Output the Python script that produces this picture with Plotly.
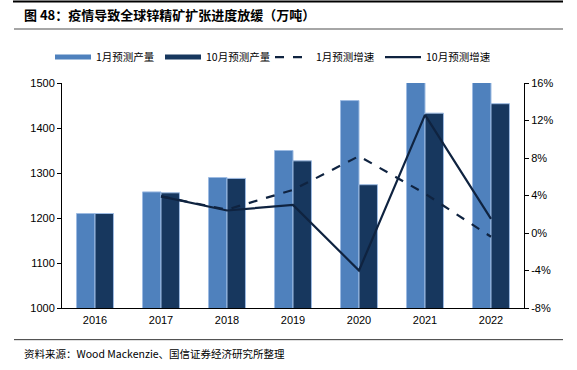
import plotly.graph_objects as go

years = ["2016", "2017", "2018", "2019", "2020", "2021", "2022"]
jan_output = [1210, 1258, 1290, 1350, 1461, 1522, 1516]
oct_output = [1210, 1256, 1288, 1327, 1274, 1433, 1454]
jan_growth = [None, 3.9, 2.5, 4.6, 8.2, 4.2, -0.4]
oct_growth = [None, 3.9, 2.4, 3.0, -4.0, 12.6, 1.5]
pct_ticks = [-8, -4, 0, 4, 8, 12, 16]
pct_labels = ["-8%", "-4%", "0%", "4%", "8%", "12%", "16%"]

LIGHT = "#4f81bd"
DARK = "#17375e"
LINE = "#0f2340"
EDGE = "#9dbbe2"

W, H = 577, 370
L, R, T, B = 62, 524, 83, 308.3

def px(x):
    return (x - L) / (R - L)

def py(y):
    return (B - y) / (B - T)

fig = go.Figure()
fig.add_trace(go.Bar(x=years, y=jan_output, marker=dict(color=LIGHT, line=dict(color=EDGE, width=1)),
                     showlegend=False, name="1月预测产量"))
fig.add_trace(go.Bar(x=years, y=oct_output, marker=dict(color=DARK, line=dict(color=EDGE, width=1)),
                     showlegend=False, name="10月预测产量"))
fig.add_trace(go.Scatter(x=years, y=jan_growth, yaxis="y2", mode="lines",
                         line=dict(color=LINE, width=2.2, dash="dash"), showlegend=False))
fig.add_trace(go.Scatter(x=years, y=oct_growth, yaxis="y2", mode="lines",
                         line=dict(color=LINE, width=2.2), showlegend=False))

# legend entries (line swatches as in reference)
fig.add_trace(go.Scatter(x=[None], y=[None], mode="lines", name="1月预测产量",
                         line=dict(color=LIGHT, width=5)))
fig.add_trace(go.Scatter(x=[None], y=[None], mode="lines", name="10月预测产量",
                         line=dict(color=DARK, width=5)))
fig.add_trace(go.Scatter(x=[None], y=[None], mode="lines", name="1月预测增速", yaxis="y2",
                         line=dict(color=LINE, width=2.2, dash="dash")))
fig.add_trace(go.Scatter(x=[None], y=[None], mode="lines", name="10月预测增速", yaxis="y2",
                         line=dict(color=LINE, width=2.2)))

tickfont = dict(family="Liberation Sans, Arial, sans-serif", size=11, color="#000")

fig.update_layout(
    width=W, height=H,
    margin=dict(l=L, r=W - R, t=T, b=H - B, pad=0),
    paper_bgcolor="white", plot_bgcolor="white",
    barmode="group", bargap=0.44, bargroupgap=0,
    xaxis=dict(showline=True, linecolor="#000", linewidth=1, ticks="", showgrid=False,
               tickfont=tickfont, ticklabelstandoff=2),
    yaxis=dict(range=[1000, 1500], tickvals=[1000, 1100, 1200, 1300, 1400, 1500],
               showline=True, linecolor="#000", linewidth=1, ticks="outside", ticklen=4,
               tickcolor="#000", showgrid=False, zeroline=False, tickfont=tickfont),
    yaxis2=dict(range=[-8, 16], tickvals=pct_ticks, ticktext=pct_labels,
                overlaying="y", side="right", showline=True, linecolor="#000", linewidth=1,
                ticks="outside", ticklen=4, tickcolor="#000", showgrid=False, zeroline=False,
                tickfont=tickfont),
    legend=dict(orientation="h", x=px(50), xanchor="left", y=py(57), yanchor="middle",
                font=dict(family="Noto Sans CJK SC, sans-serif", size=10.5, color="#000"),
                itemwidth=36, entrywidth=59, entrywidthmode="pixels",
                tracegroupgap=0, bgcolor="rgba(0,0,0,0)"),
    showlegend=True,
    font=dict(family="Liberation Sans, Arial, sans-serif"),
)

fig.add_annotation(xref="paper", yref="paper", x=px(22), y=py(14), xanchor="left", yanchor="middle",
                   text="<b>图 48：疫情导致全球锌精矿扩张进度放缓（万吨）</b>", showarrow=False,
                   font=dict(family="Noto Sans CJK SC, sans-serif", size=13, color="#000"))
fig.add_annotation(xref="paper", yref="paper", x=px(22), y=py(354), xanchor="left", yanchor="middle",
                   text="资料来源：Wood Mackenzie、国信证券经济研究所整理", showarrow=False,
                   font=dict(family="Noto Sans CJK SC, sans-serif", size=10.5, color="#000"))

fig.add_shape(type="line", xref="paper", yref="paper", x0=px(13), x1=px(563), y0=py(1.5), y1=py(1.5),
              line=dict(color="#000", width=2))
fig.add_shape(type="line", xref="paper", yref="paper", x0=px(14), x1=px(563), y0=py(29), y1=py(29),
              line=dict(color="#888", width=1.5))
fig.add_shape(type="line", xref="paper", yref="paper", x0=px(14), x1=px(563), y0=py(340), y1=py(340),
              line=dict(color="#333", width=1))

fig.write_html("out.html", config={"displayModeBar": False},
               post_script="document.body.style.margin='0';document.body.style.padding='0';")
